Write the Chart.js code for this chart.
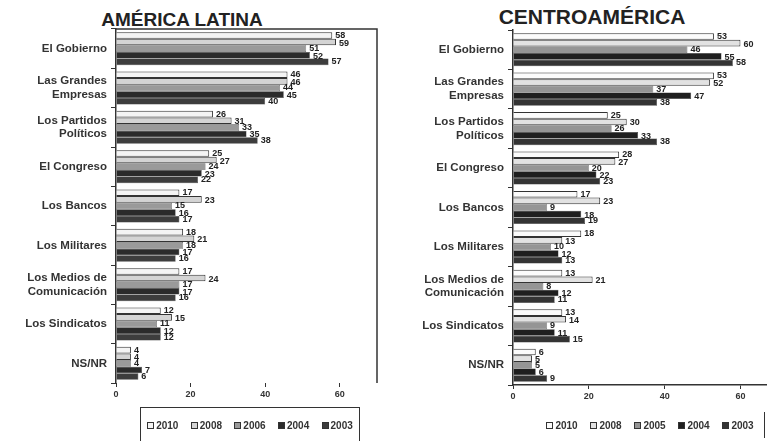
<!DOCTYPE html>
<html>
<head>
<meta charset="utf-8">
<script src="https://cdn.jsdelivr.net/npm/chart.js@4/dist/chart.umd.min.js"></script>
<style>
  body { margin: 0; width: 767px; height: 441px; background: #fff; position: relative; overflow: hidden;
         font-family: "Liberation Sans", Arial, sans-serif; }
  .wrap { position: absolute; top: 0; height: 441px; }
  .title { position: absolute; text-align: center; font-weight: bold; color: #222; line-height: 1; }
  .legend { position: absolute; display: flex; align-items: center; justify-content: space-around;
            font-size: 10px; font-weight: bold; color: #333; }
  .legend span { display: inline-flex; align-items: center; }
  .legend i { display: inline-block; width: 7px; height: 7px; border: 1px solid #333; margin-right: 2px; box-sizing: border-box; }
</style>
</head>
<body>
<div class="title" style="left:0;width:364px;top:10px;font-size:19px">AMÉRICA LATINA</div>
<div class="title" style="left:422px;width:340px;top:6px;font-size:21px">CENTROAMÉRICA</div>

<div class="wrap" style="left:0;width:390px"><canvas id="latam"></canvas></div>
<div class="wrap" style="left:390px;width:377px"><canvas id="centro"></canvas></div>

<div class="legend" id="legLatam" style="left:140px;top:407px;width:218px;height:34px;border:1.5px solid #333;border-bottom:none"></div>
<div class="legend" id="legCentro" style="left:540px;top:412px;width:220px;height:26px;border-right:1.5px solid #333;padding-right:4px"></div>

<script>
const categories = [
  "El Gobierno",
  ["Las Grandes", "Empresas"],
  ["Los Partidos", "Políticos"],
  "El Congreso",
  "Los Bancos",
  "Los Militares",
  ["Los Medios de", "Comunicación"],
  "Los Sindicatos",
  "NS/NR"
];

// América Latina
const latamYears = ["2010", "2008", "2006", "2004", "2003"];
const latam2010 = [58, 46, 26, 25, 17, 18, 17, 12, 4];
const latam2008 = [59, 46, 31, 27, 23, 21, 24, 15, 4];
const latam2006 = [51, 44, 33, 24, 15, 18, 17, 11, 4];
const latam2004 = [52, 45, 35, 23, 16, 17, 17, 12, 7];
const latam2003 = [57, 40, 38, 22, 17, 16, 16, 12, 6];

// Centroamérica
const centroYears = ["2010", "2008", "2005", "2004", "2003"];
const centro2010 = [53, 53, 25, 28, 17, 18, 13, 13, 6];
const centro2008 = [60, 52, 30, 27, 23, 13, 21, 14, 5];
const centro2005 = [46, 37, 26, 20, 9, 10, 8, 9, 5];
const centro2004 = [55, 47, 33, 22, 18, 12, 12, 11, 6];
const centro2003 = [58, 38, 38, 23, 19, 13, 11, 15, 9];

const latamTicks = [0, 20, 40, 60];
const centroTicks = [0, 20, 40, 60];

const latamColors = ["#f4f4f4", "#d4d4d4", "#9a9a9a", "#2b2b2b", "#3d3d3d"];
const centroColors = ["#fbfbfb", "#e2e2e2", "#959595", "#1f1f1f", "#343434"];

const fontName = '"Liberation Sans", Arial, sans-serif';

const valueLabels = {
  id: "valueLabels",
  afterDatasetsDraw(chart) {
    const ctx = chart.ctx;
    ctx.save();
    ctx.font = "bold 9px " + fontName;
    ctx.fillStyle = "#222";
    ctx.textBaseline = "middle";
    chart.data.datasets.forEach((ds, i) => {
      chart.getDatasetMeta(i).data.forEach((bar, j) => {
        ctx.fillText(ds.data[j], bar.x + 3, bar.y + (i % 2 ? 1 : 0));
      });
    });
    ctx.restore();
  }
};

const frame = {
  id: "frame",
  afterDraw(chart, args, opts) {
    if (!opts.on) return;
    const a = chart.chartArea, ctx = chart.ctx;
    ctx.save();
    ctx.strokeStyle = "#333";
    ctx.lineWidth = 1.5;
    ctx.beginPath();
    ctx.moveTo(a.left, a.top);
    ctx.lineTo(a.right, a.top);
    ctx.lineTo(a.right, a.bottom);
    ctx.stroke();
    ctx.restore();
  }
};

function makeChart(id, years, series, colors, ticks, max, yWidth, pad, boxed) {
  return new Chart(document.getElementById(id), {
    type: "bar",
    data: {
      labels: categories,
      datasets: years.map((y, i) => ({
        label: y,
        data: series[i],
        backgroundColor: colors[i],
        borderColor: "#333",
        borderWidth: i < 2 ? 1 : 0.5,
        categoryPercentage: 0.84,
        barPercentage: 1.0
      }))
    },
    options: {
      indexAxis: "y",
      responsive: true,
      maintainAspectRatio: false,
      animation: false,
      layout: { padding: pad },
      plugins: { legend: { display: false }, tooltip: { enabled: false }, frame: { on: boxed } },
      scales: {
        x: {
          min: 0,
          max: max,
          afterBuildTicks: s => { s.ticks = ticks.map(v => ({ value: v })); },
          afterFit: s => { s.height = 20; },
          grid: { drawOnChartArea: false, drawTicks: true, tickLength: 4, color: "#333" },
          border: { display: !boxed, color: "#333", width: 1.5 },
          ticks: { color: "#333", font: { family: fontName, size: 9, weight: "bold" }, padding: 2 }
        },
        y: {
          afterFit: s => { s.width = yWidth; },
          grid: { offset: true, drawOnChartArea: false, drawTicks: true, tickLength: 5, color: "#333" },
          border: { color: "#333", width: 1.5 },
          ticks: { color: "#333", font: { family: fontName, size: 11.5, weight: "bold" }, padding: 4 }
        }
      }
    },
    plugins: [valueLabels, frame]
  });
}

makeChart("latam", latamYears,
  [latam2010, latam2008, latam2006, latam2004, latam2003],
  latamColors, latamTicks, 70, 116, { top: 29, right: 13, bottom: 38, left: 0 }, true);

makeChart("centro", centroYears,
  [centro2010, centro2008, centro2005, centro2004, centro2003],
  centroColors, centroTicks, 67, 123, { top: 30, right: 0, bottom: 36, left: 0 }, false);

function legend(elId, years, colors) {
  const el = document.getElementById(elId);
  years.forEach((y, i) => {
    const s = document.createElement("span");
    const m = document.createElement("i");
    m.style.background = colors[i];
    s.appendChild(m);
    s.appendChild(document.createTextNode(y));
    el.appendChild(s);
  });
}
legend("legLatam", latamYears, latamColors);
legend("legCentro", centroYears, centroColors);
</script>
</body>
</html>
